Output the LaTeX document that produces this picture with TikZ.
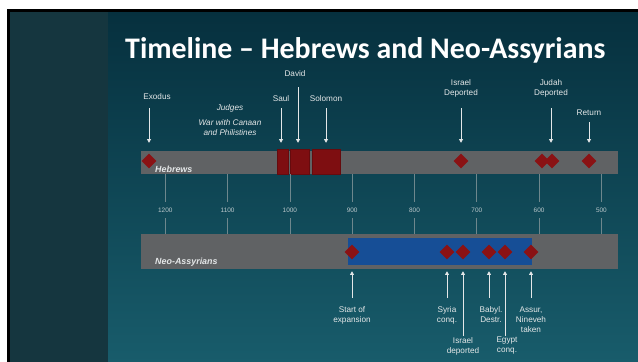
\documentclass[tikz,border=0pt]{standalone}
\usepackage{fontspec}
\setmainfont{Liberation Sans}
\newfontfamily\titlefont{Carlito}
\usepackage{tikz}
\usetikzlibrary{shapes.geometric,arrows.meta}

\definecolor{slidetop}{HTML}{06303E}
\definecolor{slidebot}{HTML}{185C6B}
\definecolor{sidepanel}{HTML}{15363F}
\definecolor{bargray}{HTML}{606264}
\definecolor{eventred}{HTML}{8A1214}
\definecolor{reignred}{HTML}{7E0E11}
\definecolor{empireblue}{HTML}{164E96}
\definecolor{labelgray}{HTML}{E4E7E8}
\definecolor{yeargray}{HTML}{B9C6CA}
\definecolor{tickgray}{HTML}{6E878D}

\begin{document}
\begin{tikzpicture}[x=0.03cm,y=-0.03cm]
    \tikzstyle{every node}+=[inner sep=0pt]
    \tikzstyle{bar}=[fill=bargray,minimum width=14.31cm]
    \tikzstyle{event}=[diamond,fill=eventred,minimum size=0.45cm]
    \tikzstyle{reign}=[fill=reignred,draw=reignred!80!black,line width=0.3pt,minimum height=0.75cm]
    \tikzstyle{lbl}=[font=\fontsize{7}{8.5}\selectfont,text=labelgray,align=center]
    \tikzstyle{era}=[lbl,font=\fontsize{7}{8.5}\selectfont\itshape]
    \tikzstyle{barname}=[anchor=west,font=\fontsize{7.6}{9}\selectfont\bfseries\itshape,text=labelgray]
    \tikzstyle{yearlbl}=[font=\fontsize{5.5}{6}\selectfont,text=yeargray,inner sep=4.8pt]
    \tikzstyle{tick}=[draw=tickgray,line width=0.6pt]
    \tikzstyle{pointer}=[draw=labelgray,line width=0.7pt,-{Triangle[length=3.2pt,width=3.4pt]}]

    % slide background
    \fill [white] (0,0) rectangle (638,362);
    \fill [black] (7,9) rectangle (638,362);
    \fill [sidepanel] (10,12) rectangle (108,362);
    \shade [top color=slidetop,bottom color=slidebot] (108,12) rectangle (638,362);

    \node [anchor=base west,font=\titlefont\bfseries\fontsize{25.5}{30}\selectfont,text=white] (title) at (125,58) {Timeline – Hebrews and Neo-Assyrians};

    % bars
    \node [bar,minimum height=0.69cm] (hebrews) at (379.5,162.5) {};
    \node [bar,minimum height=1.05cm] (assyr) at (379.5,251.5) {};
    \node [fill=empireblue,minimum width=5.52cm,minimum height=0.81cm] (empire) at (440,251.5) {};

    % reigns
    \node [reign,minimum width=0.33cm] (saul) at (282.5,161.5) {};
    \node [reign,minimum width=0.57cm] (david) at (299.5,161.5) {};
    \node [reign,minimum width=0.84cm] (solomon) at (326,161.5) {};

    % hebrew events
    \node [event] (exodusMk) at (149,161) {};
    \node [event] (israelMk) at (461,161) {};
    \node [event] (judahMkA) at (542,161) {};
    \node [event] (judahMkB) at (552,161) {};
    \node [event] (returnMk) at (589,161) {};

    % assyrian events
    \node [event] (startMk) at (352,252) {};
    \node [event] (syriaMk) at (447,252) {};
    \node [event] (samariaMk) at (463,252) {};
    \node [event] (babylMk) at (489,252) {};
    \node [event] (egyptMk) at (505,252) {};
    \node [event] (assurMk) at (531,252) {};

    \node [barname] (hebrewsLbl) at (155,169) {Hebrews};
    \node [barname] (assyrLbl) at (155,262) {Neo-Assyrians};

    % years
    \foreach \yr [evaluate=\yr as \xx using {165.3+0.623*(1200-\yr)}] in {1200,1100,...,500} {
        \node [yearlbl] (y\yr) at (\xx,210) {\yr};
        \draw [tick] (y\yr.north) -- (y\yr.north |- hebrews.south);
        \draw [tick] (y\yr.south) -- (y\yr.south |- assyr.north);
    }

    % upper labels
    \node [lbl] (exodusLbl) at (157,97) {Exodus};
    \node [era] (judgesLbl) at (230,108) {Judges};
    \node [era] (warLbl) at (230,128) {War with Canaan\\and Philistines};
    \node [lbl] (saulLbl) at (281,99) {Saul};
    \node [lbl] (davidLbl) at (295,74) {David};
    \node [lbl] (solomonLbl) at (326,99) {Solomon};
    \node [lbl] (israelLbl) at (461,88) {Israel\\Deported};
    \node [lbl] (judahLbl) at (551,88) {Judah\\Deported};
    \node [lbl] (returnLbl) at (589,113) {Return};

    \coordinate (exodusTail) at (149,108);
    \coordinate (saulTail) at (281,108);
    \coordinate (davidTail) at (298,87);
    \coordinate (solomonTail) at (326,108);
    \coordinate (israelTail) at (461,108);
    \coordinate (judahTail) at (551,108);
    \coordinate (returnTail) at (589,122);
    \foreach \ev in {exodus,saul,david,solomon,israel,judah,return}
        \draw [pointer,shorten >=6.8pt] (\ev Tail) -- (\ev Tail |- hebrews.north);

    % lower labels
    \node [lbl] (startLbl) at (352,315) {Start of\\expansion};
    \node [lbl] (syriaLbl) at (447,315) {Syria\\conq.};
    \node [lbl] (samariaLbl) at (463,346) {Israel\\deported};
    \node [lbl] (babylLbl) at (491,315) {Babyl.\\Destr.};
    \node [lbl] (egyptLbl) at (507,346) {Egypt\\conq.};
    \node [lbl] (assurLbl) at (531,320) {Assur,\\Nineveh\\taken};

    \coordinate (startTail) at (352,298);
    \coordinate (syriaTail) at (447,298);
    \coordinate (samariaTail) at (463,336);
    \coordinate (babylTail) at (489,298);
    \coordinate (egyptTail) at (505,336);
    \coordinate (assurTail) at (531,298);
    \foreach \ev in {start,syria,samaria,babyl,egypt,assur}
        \draw [pointer,shorten >=1.7pt] (\ev Tail) -- (\ev Tail |- assyr.south);
\end{tikzpicture}
\end{document}
